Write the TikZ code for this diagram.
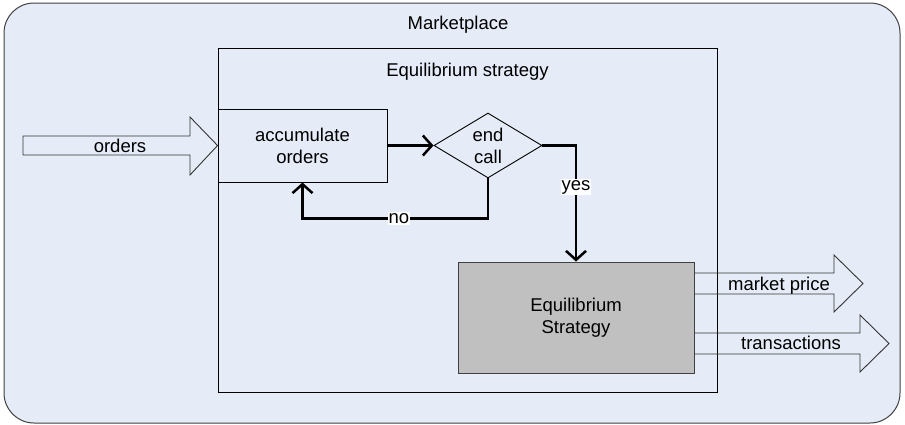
\documentclass[tikz,border=0pt]{standalone}
\usepackage{fontspec}
\setmainfont{Liberation Sans}
\usetikzlibrary{arrows.meta,shapes.geometric}
\definecolor{panel}{RGB}{230,236,247}
\definecolor{stratgrey}{RGB}{192,192,192}
\begin{document}
\begin{tikzpicture}[x=1pt,y=-1pt,
  lbl/.style={font=\fontsize{18.5}{22}\selectfont, align=center, inner sep=0pt},
  box/.style={lbl, draw=black, line width=0.9pt, rectangle},
  flow/.style={line width=2.5pt, -{Straight Barb[length=9pt,width=20pt]}},
  tag/.style={lbl, fill=white, inner sep=1pt},
  blockarrow/.style={draw=black!80, line width=0.9pt, line join=miter}
]
% page and marketplace panel
\fill[white] (0,0) rectangle (905,424);
\useasboundingbox (0,0) rectangle (905,424);
\draw[fill=panel, draw=black!75, line width=1pt, rounded corners=30pt]
  (4,3) rectangle (900,423);
\node[lbl, anchor=base] (mkt) at (458,29) {Marketplace};

% strategy frame
\draw[black, line width=0.9pt] (218,48) rectangle (717,392);
\node[lbl, anchor=base] (frame) at (467.5,76) {Equilibrium strategy};

% process blocks
\node[box, minimum width=169pt, minimum height=73pt] (acc) at (302.5,145.5)
  {accumulate\\orders};
\node[lbl, draw=black, line width=0.9pt, shape=diamond, aspect=1.66,
  minimum width=108pt, minimum height=65pt] (call) at (488,145.5) {end\\call};
\node[box, fill=stratgrey, draw=black!75, minimum width=236pt, minimum height=111pt]
  (strat) at (576,317.5) {Equilibrium\\Strategy};

% control flow
\draw[flow] (acc.east) -- (call.west);
\draw[flow] (call.south) -- ++(0,40) -| node[tag, pos=0.24] {no} (acc.south);
\draw[flow] (call.east) -| node[tag, pos=0.68] {yes} (strat.north);

% input and output block arrows
\draw[blockarrow] (23,136) -- (190,136) -- (190,117) -- (acc.west)
  -- (190,175) -- (190,155) -- (23,155) -- cycle;
\node[lbl] (orders) at (120,146) {orders};

\draw[blockarrow] (strat.east |- 0,273) -- (834,273) -- (834,255) -- (863,283.5)
  -- (834,312) -- (834,294) -- (strat.east |- 0,294);
\node[lbl, anchor=base] (price) at (779,290) {market price};

\draw[blockarrow] (strat.east |- 0,333) -- (860,333) -- (860,315) -- (889,343.5)
  -- (860,372) -- (860,354) -- (strat.east |- 0,354);
\node[lbl, anchor=base] (trans) at (791,349) {transactions};
\end{tikzpicture}
\end{document}
